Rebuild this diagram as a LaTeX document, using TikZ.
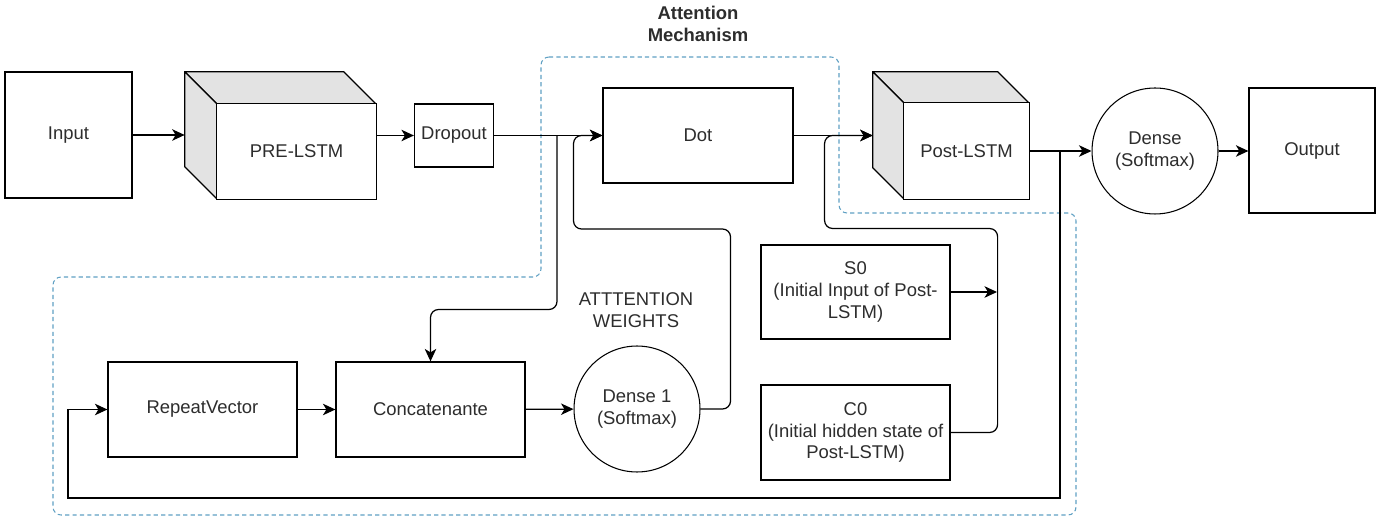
\documentclass[tikz,border=0pt]{standalone}
\usepackage{fontspec}
\setmainfont{Liberation Sans}
\usetikzlibrary{shapes}
\usetikzlibrary{positioning}
\usetikzlibrary{arrows.meta}
\usetikzlibrary{calc}
\definecolor{txtgray}{RGB}{45,45,45}
\definecolor{attblue}{RGB}{95,160,195}
\tikzset{
    mybox/.style = {rectangle, draw=black, line width=0.7pt, fill=white, align=center, text=txtgray},
    mycircle/.style = {circle, draw=black, line width=0.6pt, fill=white, align=center, text=txtgray, minimum size=2.52cm, inner sep=0pt},
    mycube/.style = {rectangle, inner sep=0pt},
    cubeface/.style = {draw=black, line width=0.7pt, fill=gray!22, line join=round},
    mytext/.style = {align=center, text=txtgray},
    edgen/.style = {-{Stealth[length=0.25cm,width=0.23cm,inset=0.07cm]}, line width=0.7pt},
    edgeg/.style = {line width=0.7pt},
    attzone/.style = {draw=attblue, line width=0.6pt, dash pattern=on 2.4pt off 1.8pt, rounded corners=0.16cm}, % attention block
    every picture/.style={font issue=\fontsize{10.5}{12.5}},
    font issue/.style={execute at begin picture={#1\selectfont}}
}

\begin{document}
\begin{tikzpicture}[x=0.02cm, y=-0.02cm, font=\fontsize{10.5}{12.5}\selectfont]
  \useasboundingbox (0,0) rectangle (1391,516);

  % attention mechanism region
  \draw[attzone] (541,57) -- (839,57) -- (839,213) -- (1076,213) -- (1076,515)
    -- (53,515) -- (53,277) -- (541,277) -- cycle;
  \node[mytext, font=\fontsize{10.5}{12.5}\selectfont\bfseries] (title) at (698,24) {Attention\\Mechanism};

  % top row
  \node[mybox, minimum width=2.54cm, minimum height=2.52cm] (inp) at (68.5,135) {Input};

  \node[mycube, minimum width=3.82cm, minimum height=2.54cm] (pre) at (280.5,135.5) {};
  \draw[cubeface] (pre.north west) -- ++(159,0) -- ++(32,32) -- ++(-159,0) -- cycle;
  \draw[cubeface] (pre.north west) -- ++(32,32) -- ++(0,95) -- ++(-32,-32) -- cycle;
  \draw[line width=0.7pt, fill=white] ([shift={(32,32)}]pre.north west) rectangle (pre.south east);
  \node[mytext] (pretxt) at ([shift={(16,16)}]pre.center) {PRE-LSTM};

  \node[mybox, minimum width=1.58cm, minimum height=1.26cm] (drop) at (454,135.5) {Dropout};
  \node[mybox, minimum width=3.8cm, minimum height=1.9cm] (dot) at (698,135.5) {Dot};

  \node[mycube, minimum width=3.12cm, minimum height=2.54cm] (post) at (951,135.5) {};
  \draw[cubeface] (post.north west) -- ++(125,0) -- ++(31,31) -- ++(-125,0) -- cycle;
  \draw[cubeface] (post.north west) -- ++(31,31) -- ++(0,96) -- ++(-31,-31) -- cycle;
  \draw[line width=0.7pt, fill=white] ([shift={(31,31)}]post.north west) rectangle (post.south east);
  \node[mytext] (posttxt) at ([shift={(15.5,15.5)}]post.center) {Post-LSTM};

  \node[mycircle] (dense) at (1155,151) {Dense\\(Softmax)};
  \node[mybox, minimum width=2.52cm, minimum height=2.5cm] (out) at (1312,150.5) {Output};

  % bottom row
  \node[mybox, minimum width=3.78cm, minimum height=1.9cm] (rep) at (202.5,409.5) {RepeatVector};
  \node[mybox, minimum width=3.78cm, minimum height=1.9cm] (concat) at (430.5,409.5) {Concatenante};
  \node[mycircle] (att) at (637,409) {Dense 1\\(Softmax)};
  \node[mytext] (weights) at (636,310) {ATTTENTION\\WEIGHTS};
  \node[mybox, minimum width=3.78cm, minimum height=1.88cm] (s0) at (855.5,292) {S0\\(Initial Input of Post-\\LSTM)};
  \node[mybox, minimum width=3.78cm, minimum height=1.9cm] (c0) at (855.5,432.5) {C0\\(Initial hidden state of\\Post-LSTM)};

  \coordinate (br1) at (557,135.5);
  \coordinate (br2) at (1060,151);
  \coordinate (join) at (997,292);

  \draw[edgen] (inp.east) -- (inp.east -| pre.west);
  \draw[edgen] (pre.east |- drop.west) -- (drop.west);
  \draw[edgen] (drop.east |- dot.west) -- (dot.west);
  \draw[edgen, rounded corners=0.16cm] (br1) -- ++(0,174) -| (concat.north);
  \draw[edgen, rounded corners=0.16cm] (att.east) -- ++(30,0) |- ++(-157,-180) |- (dot.west);
  \draw[edgen] (dot.east) -- (post.west);
  \draw[edgen, rounded corners=0.16cm] (c0.east) -- ++(47,0) |- ++(-173,-204) |- (post.west);
  \draw[edgen] (s0.east) -- (join);
  \draw[edgen] (post.east |- dense.west) -- (dense.west);
  \draw[edgen] (br2) |- ++(-992,347) |- (rep.west);
  \draw[edgen] (dense.east) -- (out.west |- dense.east);
  \draw[edgen] (rep) -- (concat);
  \draw[edgen] (concat) -- (att);

\end{tikzpicture}
\end{document}
